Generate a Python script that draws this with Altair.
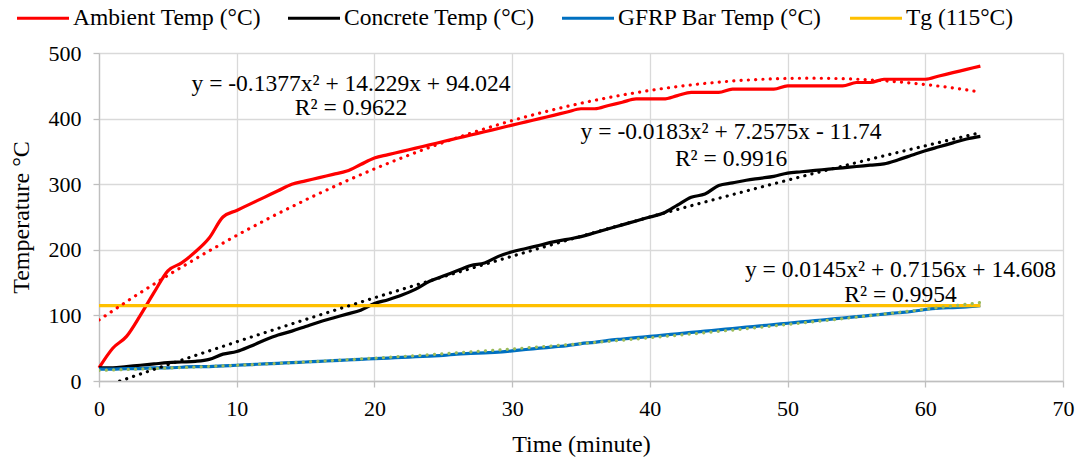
import altair as alt
import pandas as pd

minutes = list(range(65))
ambient = [20, 50, 68, 100, 135, 168, 180, 197, 218, 250, 260, 270, 280, 290, 300, 305, 310, 315, 320, 330,
           340, 345, 350, 355, 360, 365, 370, 375, 380, 385, 390, 395, 400, 405, 410, 415, 415, 420, 425, 430,
           430, 430, 435, 440, 440, 440, 445, 445, 445, 445, 450, 450, 450, 450, 450, 455, 455, 460, 460, 460,
           460, 465, 470, 475, 480]
concrete = [20, 20, 22, 24, 26, 28, 29, 30, 33, 41, 45, 53, 62, 70, 76, 83, 90, 96, 102, 108,
            118, 124, 131, 140, 152, 160, 168, 176, 180, 190, 197, 202, 207, 212, 216, 220, 226, 232, 238, 244,
            250, 256, 268, 280, 285, 298, 302, 306, 309, 312, 317, 319, 321, 323, 325, 327, 329, 331, 337, 344,
            351, 357, 363, 369, 373]
gfrp = [18, 18, 19, 19, 20, 20, 21, 22, 22, 23, 24, 25, 26, 27, 28, 29, 30, 31, 32, 33,
        34, 35, 36, 37, 38, 39, 41, 42, 43, 44, 46, 48, 50, 52, 54, 57, 59, 62, 64, 66,
        68, 70, 72, 74, 76, 78, 80, 82, 84, 86, 88, 90, 92, 94, 96, 98, 100, 102, 104, 106,
        109, 111, 112, 113, 115]
tg_x = [0, 64]
tg_y = [115, 115]

series_names = ["Ambient Temp (°C)", "Concrete Temp (°C)", "GFRP Bar Temp (°C)", "Tg (115°C)"]
series_colors = ["#FF0000", "#000000", "#0070C0", "#FFC000"]
trend_colors = ["#FF0000", "#000000", "#9BBB59"]

eq_text = ["y = -0.1377x² + 14.229x + 94.024", "R² = 0.9622",
           "y = -0.0183x² + 7.2575x - 11.74", "R² = 0.9916",
           "y = 0.0145x² + 0.7156x + 14.608", "R² = 0.9954"]
eq_x = [18.3, 18.3, 45.9, 45.9, 58.2, 58.2]
eq_y = [453, 416, 379, 338, 169, 131]

rows = []
for name, vals in zip(series_names[:3], [ambient, concrete, gfrp]):
    for m, v in zip(minutes, vals):
        rows.append({"t": m, "temp": v, "series": name})
for m, v in zip(tg_x, tg_y):
    rows.append({"t": m, "temp": v, "series": series_names[3]})
df = pd.DataFrame(rows)
eq_df = pd.DataFrame({"x": eq_x, "y": eq_y, "text": eq_text})

FONT = "Times New Roman"

xscale = alt.Scale(domain=[0, 70], nice=False)
yscale = alt.Scale(domain=[0, 500], nice=False)

base = alt.Chart(df)

lines = base.mark_line(strokeWidth=3.2, interpolate="monotone").encode(
    x=alt.X("t:Q", scale=xscale, title="Time (minute)",
            axis=alt.Axis(values=list(range(0, 71, 10)))),
    y=alt.Y("temp:Q", scale=yscale, title="Temperature °C",
            axis=alt.Axis(values=list(range(0, 501, 100)))),
    color=alt.Color("series:N",
                    scale=alt.Scale(domain=series_names, range=series_colors),
                    sort=series_names,
                    legend=alt.Legend(orient="none", direction="horizontal", title=None,
                                      legendX=-84, legendY=-63,
                                      symbolType="stroke", symbolSize=2704,
                                      symbolStrokeWidth=3.2, labelOffset=2,
                                      columnPadding=20, columns=4,
                                      labelFont=FONT, labelFontSize=23.5, labelColor="#000000",
                                      labelLimit=400)),
    order=alt.Order("t:Q"),
)

trends = []
for name, col in zip(series_names[:3], trend_colors):
    trends.append(
        base.transform_filter(alt.datum.series == name)
        .transform_regression("t", "temp", method="poly", order=2, extent=[0, 64])
        .mark_line(strokeWidth=3.2, strokeDash=[0.1, 7.2], strokeCap="round", clip=True, color=col)
        .encode(x=alt.X("t:Q", scale=xscale), y=alt.Y("temp:Q", scale=yscale))
    )

eqs = alt.Chart(eq_df).mark_text(font=FONT, fontSize=23.5, color="#000000", align="center",
                                 baseline="middle").encode(
    x=alt.X("x:Q", scale=xscale), y=alt.Y("y:Q", scale=yscale), text="text:N")

chart = alt.layer(lines, *trends, eqs).properties(
    width=964, height=328,
    autosize=alt.AutoSizeParams(type="none"),
    padding={"left": 99, "top": 53, "right": 18, "bottom": 82},
).configure_view(stroke=None).configure_axis(
    labelFont=FONT, labelFontSize=22, labelColor="#000000", labelFlush=False,
    titleFont=FONT, titleFontSize=24, titleFontWeight="normal", titleColor="#000000",
    gridColor="#D9D9D9", gridWidth=1.3, domainColor="#BFBFBF", domainWidth=1.3,
    tickColor="#BFBFBF", tickWidth=1.3, tickSize=6,
).configure_axisX(labelPadding=11, titlePadding=13).configure_axisY(labelPadding=12, titlePadding=15)

chart.save("out.html", embed_options={"renderer": "svg", "actions": False})
